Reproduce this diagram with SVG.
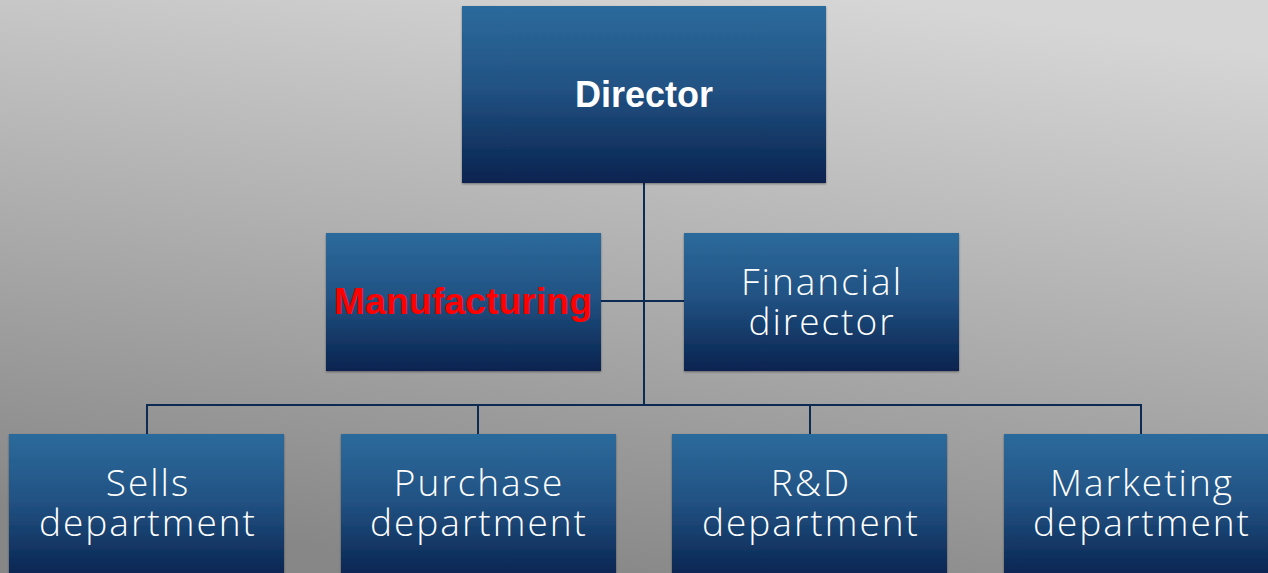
<svg xmlns="http://www.w3.org/2000/svg" width="1268" height="573" viewBox="0 0 1268 573">
<defs>
<linearGradient id="bg" x1="0.7" y1="0" x2="0.4" y2="1">
<stop offset="0" stop-color="#d6d6d6"/>
<stop offset="1" stop-color="#878787"/>
</linearGradient>
<linearGradient id="box" x1="0" y1="0" x2="0" y2="1">
<stop offset="0" stop-color="#2c6a9c"/>
<stop offset="0.45" stop-color="#225384"/>
<stop offset="1" stop-color="#08234f"/>
</linearGradient>
<filter id="sh" x="-5%" y="-5%" width="110%" height="115%">
<feDropShadow dx="0" dy="1" stdDeviation="1.2" flood-color="#000" flood-opacity="0.4"/>
</filter>
</defs>
<style>
.node rect{fill:url(#box);filter:url(#sh)}
.conn{stroke:#0d2a52;stroke-width:2;fill:none}
.lt{font-family:"Open Sans","Liberation Sans",sans-serif;font-weight:300;font-size:37px;letter-spacing:2px;fill:#fff;text-anchor:middle}
.bd{font-family:"Liberation Sans",Arial,sans-serif;font-weight:bold;text-anchor:middle}
</style>
<rect width="1268" height="573" fill="url(#bg)"/>
<g id="connectors">
<path class="conn" d="M644 183V405M601 301H684M147 434V405H1141V434M478 405V434M810 405V434"/>
</g>
<g id="director" class="node"><rect x="462" y="6" width="364" height="177"/><text class="bd" x="644" y="107" font-size="36" fill="#fff">Director</text></g>
<g id="manufacturing" class="node"><rect x="326" y="233" width="275" height="138"/><text class="bd" x="463" y="314" font-size="37.5" fill="#ff0000">Manufacturing</text></g>
<g id="financial" class="node"><rect x="684" y="233" width="275" height="138"/><text class="lt" x="822" y="295">Financial</text><text class="lt" x="822" y="335">director</text></g>
<g id="sells" class="node"><rect x="9" y="434" width="275" height="145"/><text class="lt" x="148" y="496">Sells</text><text class="lt" x="148" y="536">department</text></g>
<g id="purchase" class="node"><rect x="341" y="434" width="275" height="145"/><text class="lt" x="479" y="496">Purchase</text><text class="lt" x="479" y="536">department</text></g>
<g id="rd" class="node"><rect x="672" y="434" width="275" height="145"/><text class="lt" x="811" y="496">R&amp;D</text><text class="lt" x="811" y="536">department</text></g>
<g id="marketing" class="node"><rect x="1004" y="434" width="275" height="145"/><text class="lt" x="1142" y="496">Marketing</text><text class="lt" x="1142" y="536">department</text></g>
</svg>
